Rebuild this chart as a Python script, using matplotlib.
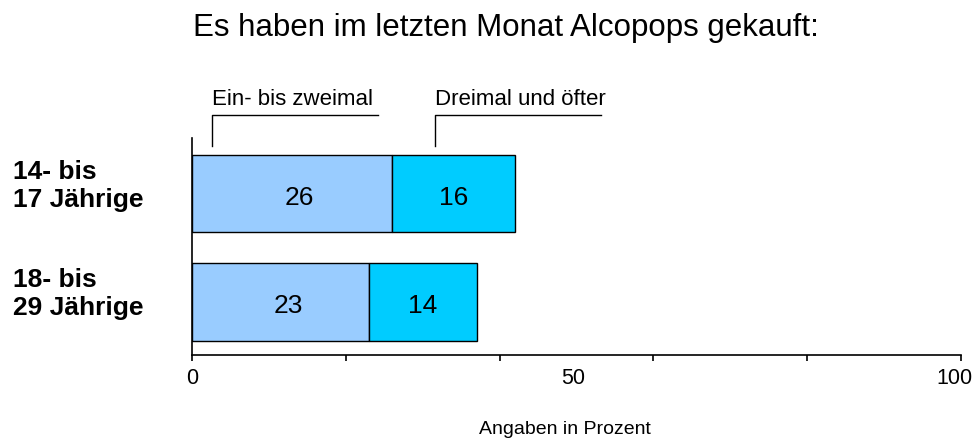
import numpy as np
import matplotlib
matplotlib.use("Agg")
import matplotlib.pyplot as plt
import matplotlib.transforms as mtransforms

plt.rcParams['font.family'] = ['Liberation Sans', 'DejaVu Sans']

# data
groups = ["14- bis\n17 Jährige", "18- bis\n29 Jährige"]
einmal = [26, 23]      # Ein- bis zweimal
dreimal = [16, 14]     # Dreimal und öfter
series_names = ["Ein- bis zweimal", "Dreimal und öfter"]
tick_labels = ["0", "50", "100"]
title = "Es haben im letzten Monat Alcopops gekauft:"
xlabel = "Angaben in Prozent"

col_light = "#99CCFF"
col_cyan = "#00CCFF"

fig = plt.figure(figsize=(9.78, 4.4), dpi=100)
W, H = 978, 440
# axes box: x 192..961 px, y 138..355 px
ax = fig.add_axes([192 / W, 1 - 355 / H, (961 - 192) / W, (355 - 138) / H])

pos = np.array([1, 0])
bh = 0.72
ax.barh(pos, einmal, height=bh, color=col_light, edgecolor="black", linewidth=1.0)
ax.barh(pos, dreimal, left=einmal, height=bh, color=col_cyan, edgecolor="black", linewidth=1.0)

for p, a, b in zip(pos, einmal, dreimal):
    ax.text(a / 2 + 1, p - 0.04, str(a), ha="center", va="center", fontsize=19)
    ax.text(a + b / 2, p - 0.04, str(b), ha="center", va="center", fontsize=19)

ax.set_xlim(0, 100)
ax.set_ylim(-0.493, 1.513)

for s in ["top", "right"]:
    ax.spines[s].set_visible(False)
for s in ["left", "bottom"]:
    ax.spines[s].set_linewidth(1.2)

ax.set_yticks([])
ax.set_xticks(np.arange(0, 101, 20))
ax.set_xticklabels([])
ax.tick_params(axis="x", direction="out", length=4, width=1.2)
# labels at 0, 50, 100 (no tick at 50), slightly pulled left like the original
for lab in tick_labels:
    v = float(lab)
    ax.text(v - 0.008 * v, -0.706, lab, ha="center", va="center", fontsize=15.5, clip_on=False)

# group labels
for p, g in zip(pos, groups):
    ax.text(13 / W, p + 0.07, g, transform=mtransforms.blended_transform_factory(fig.transFigure, ax.transData),
            ha="left", va="center", fontsize=19, fontweight="bold", linespacing=1.2)

# bracket legend
y_low = 1 - 146 / H
y_high = 1 - 115 / H
for name, x0, x1 in zip(series_names, [212, 435], [378, 601]):
    fig.add_artist(plt.Line2D([x0 / W, x0 / W, x1 / W], [y_low, y_high, y_high],
                              color="black", linewidth=1.0, transform=fig.transFigure))
    fig.text(x0 / W, 1 - 105 / H, name, ha="left", va="baseline", fontsize=16)

fig.text(193 / W, 1 - 36 / H, title, ha="left", va="baseline", fontsize=22.5)
fig.text(565 / W, 1 - 429 / H, xlabel, ha="center", va="center", fontsize=14)

fig.savefig("out.png", dpi=100)
